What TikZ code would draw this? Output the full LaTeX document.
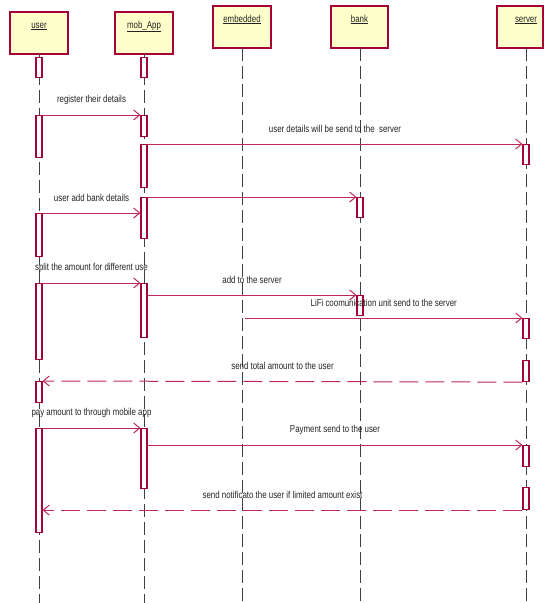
\documentclass[tikz,border=0pt]{standalone}
\usepackage{fontspec}
\setmainfont{Liberation Sans}[FakeStretch=0.79]
\usetikzlibrary{arrows.meta}
\definecolor{crim}{RGB}{165,0,55}
\definecolor{msgc}{RGB}{190,40,90}
\definecolor{headfill}{RGB}{255,255,204}
\definecolor{txt}{RGB}{35,35,35}
\newcommand\actbox[4]{\node[actbox, minimum height={#4-#3}, anchor=north] (#1) at (#2,#3) {};}
\begin{document}
\begin{tikzpicture}[x=1pt,y=-1pt,
  headbox/.style={draw=crim, line width=1.3pt, fill=headfill, inner sep=0pt, minimum height=42pt},
  headtxt/.style={anchor=base, inner sep=0pt, font=\fontsize{10}{12}\selectfont, text=txt},
  lifeline/.style={draw=black!75, line width=1pt, dash pattern=on 13pt off 5pt},
  actbox/.style={draw=crim, line width=1.1pt, fill=white, inner sep=0pt, minimum width=6pt},
  msg/.style={draw=msgc, line width=1pt, -{Straight Barb[length=6pt,width=10pt,line width=1pt]}},
  ret/.style={msg, dash pattern=on 19pt off 7pt},
  lbl/.style={midway, yshift=15.5pt, inner sep=0pt, font=\fontsize{10}{12}\selectfont, text=txt}]
\useasboundingbox (0,0) rectangle (544,603);
\coordinate (bottom) at (0,603);
% heads
\node[headbox, minimum width=58pt] (user) at (39,33) {};
\node[headbox, minimum width=58pt] (mob) at (144,33) {};
\node[headbox, minimum width=58pt] (emb) at (242,27) {};
\node[headbox, minimum width=57pt] (bank) at (359.5,27) {};
\node[headbox, minimum width=46pt] (server) at (520,27) {};
\node[headtxt] (userT) at (39,28) {\underline{user}};
\node[headtxt] (mobT) at (144,28) {\underline{mob\_App}};
\node[headtxt] (embT) at (242,22) {\underline{embedded}};
\node[headtxt] (bankT) at (359.5,22) {\underline{bank}};
\node[headtxt] (serverT) at (526,22) {\underline{server}};
% lifelines
\coordinate (userL) at (39,54);
\coordinate (mobL) at (144,54);
\coordinate (embL) at (242,48);
\coordinate (bankL) at (360,48);
\coordinate (serverL) at (526,48);
\draw[lifeline] (userL) -- (userL |- bottom);
\draw[lifeline] (mobL) -- (mobL |- bottom);
\draw[lifeline] (embL) -- (embL |- bottom);
\draw[lifeline] (bankL) -- (bankL |- bottom);
\draw[lifeline] (serverL) -- (serverL |- bottom);
% activations
\actbox{uA1}{39}{57}{77}
\actbox{uA2}{39}{115}{157}
\actbox{uA3}{39}{213}{256}
\actbox{uA4}{39}{283}{359}
\actbox{uA5}{39}{381}{402}
\actbox{uA6}{39}{428}{532}
\actbox{mA1}{144}{57}{77}
\actbox{mA2}{144}{115}{136}
\actbox{mA3}{144}{144}{187}
\actbox{mA4}{144}{197}{238}
\actbox{mA5}{144}{283}{337}
\actbox{mA6}{144}{428}{488}
\actbox{bA1}{360}{197}{217}
\actbox{bA2}{360}{295}{315}
\actbox{sA1}{526}{144}{164}
\actbox{sA2}{526}{318}{338}
\actbox{sA3}{526}{360}{381}
\actbox{sA4}{526}{445}{466}
\actbox{sA5}{526}{487}{509}
% messages
\draw[msg] (uA2.north east) -- (mA2.north west) node[lbl] {register their details};
\draw[msg] (mA3.north east) -- (sA1.north west) node[lbl] {user details will be send to the\ \ server};
\draw[msg] (mA4.north east) -- (bA1.north west);
\draw[msg] (uA3.north east) -- (uA3.north east -| mA4.west) node[lbl] {user add bank details};
\draw[msg] (uA4.north east) -- (mA5.north west) node[lbl] {split the amount for different use};
\draw[msg] (bA2.north west -| mA5.east) -- (bA2.north west) node[lbl] {add to the server};
\draw[msg] ([xshift=3pt]embL |- sA2.north) -- (sA2.north west) node[lbl] {LiFi coomunication unit send to the server};
\draw[ret] (sA3.south west) -- (uA5.north east) node[lbl] {send total amount to the user};
\draw[msg] (uA6.north east) -- (mA6.north west) node[lbl] {pay amount to through mobile app};
\draw[msg] (sA4.north west -| mA6.east) -- (sA4.north west) node[lbl] {Payment send to the user};
\draw[ret] (sA5.south west) -- (sA5.south west -| uA6.east) node[lbl] {send notificato the user if limited amount exist};
\end{tikzpicture}
\end{document}
